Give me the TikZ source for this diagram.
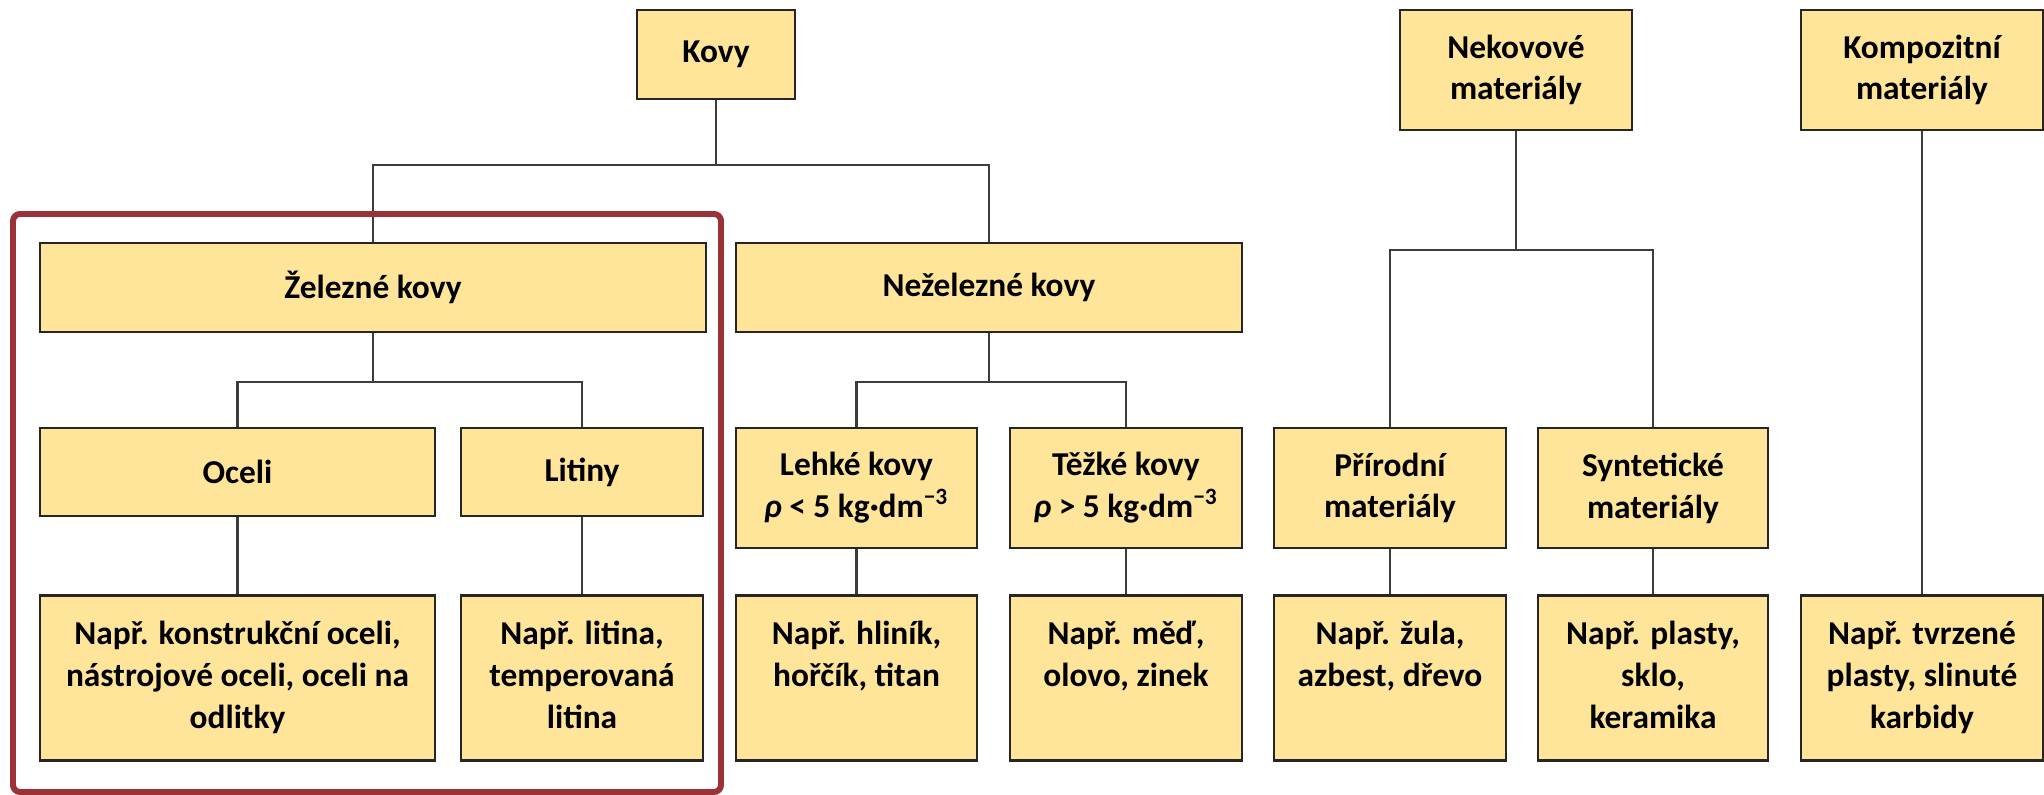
\documentclass[tikz,border=0pt]{standalone}
\usepackage{fontspec}
\setmainfont{Carlito}
\usepackage{tikz}
\usetikzlibrary{positioning,calc}

\definecolor{boxfill}{RGB}{255,229,153}
\definecolor{framered}{RGB}{155,50,55}
\definecolor{linegray}{RGB}{60,60,60}

\begin{document}
\begin{tikzpicture}[
    box/.style={draw=black!85, line width=0.8pt, rectangle, fill=boxfill, align=center,
      inner sep=0pt, font=\bfseries\fontsize{9.5}{11.9}\selectfont},
    % example boxes: text starts at the same height, two or three lines
    exboxii/.style={box, minimum height=1.65cm, text height=0.909cm, text depth=0.741cm},
    exboxiii/.style={box, minimum height=1.65cm, text height=1.327cm, text depth=0.323cm},
    conn/.style={draw=linegray, line width=0.6pt},
    hilite/.style={draw=framered, line width=1.7pt, rounded corners=2pt}]
    \useasboundingbox (0,0) rectangle (20.44,-7.95);

    % Nodes
    \node [box, minimum width=1.58cm, minimum height=0.89cm] (kovy) at (7.16,-0.545) {Kovy};
    \node [box, minimum width=2.32cm, minimum height=1.20cm] (nekovove) at (15.16,-0.70) {Nekovové\\materiály};
    \node [box, minimum width=2.42cm, minimum height=1.20cm] (kompozitni) at (19.22,-0.70) {Kompozitní\\materiály};

    \node [box, minimum width=6.66cm, minimum height=0.89cm] (zelezne) at (3.73,-2.875) {Železné kovy};
    \node [box, minimum width=5.06cm, minimum height=0.89cm] (nezelezne) at (9.89,-2.875) {Neželezné kovy};

    \node [box, minimum width=3.95cm, minimum height=0.88cm] (oceli) at (2.375,-4.72) {Oceli};
    \node [box, minimum width=2.42cm, minimum height=0.88cm] (litiny) at (5.82,-4.72) {Litiny};
    \node [box, minimum width=2.41cm, minimum height=1.20cm] (lehke) at (8.565,-4.88) {Lehké kovy\\{\itshape ρ} < 5 kg·dm\textsuperscript{−3}};
    \node [box, minimum width=2.32cm, minimum height=1.20cm] (tezke) at (11.26,-4.88) {Těžké kovy\\{\itshape ρ} > 5 kg·dm\textsuperscript{−3}};
    \node [box, minimum width=2.32cm, minimum height=1.20cm] (prirodni) at (13.90,-4.88) {Přírodní\\materiály};
    \node [box, minimum width=2.30cm, minimum height=1.20cm] (synteticke) at (16.53,-4.88) {Syntetické\\materiály};

    \node [exboxiii, minimum width=3.95cm, below=0.77cm of oceli] (oceliEx) {Např. konstrukční oceli,\\nástrojové oceli, oceli na\\odlitky};
    \node [exboxiii, minimum width=2.42cm, below=0.77cm of litiny] (litinyEx) {Např. litina,\\temperovaná\\litina};
    \node [exboxii, minimum width=2.41cm, below=0.45cm of lehke] (lehkeEx) {Např. hliník,\\hořčík, titan};
    \node [exboxii, minimum width=2.32cm, below=0.45cm of tezke] (tezkeEx) {Např. měď,\\olovo, zinek};
    \node [exboxii, minimum width=2.32cm, below=0.45cm of prirodni] (prirodniEx) {Např. žula,\\azbest, dřevo};
    \node [exboxiii, minimum width=2.30cm, below=0.45cm of synteticke] (syntetickeEx) {Např. plasty,\\sklo,\\keramika};
    \node [exboxiii, minimum width=2.42cm, below=4.63cm of kompozitni] (kompozitniEx) {Např. tvrzené\\plasty, slinuté\\karbidy};

    % Lines
    \draw [conn] (kovy.south) -- ++(0,-0.65) -| (zelezne.north);
    \draw [conn] (kovy.south) -- ++(0,-0.65) -| (nezelezne.north);
    \draw [conn] (zelezne.south) -- ++(0,-0.49) -| (oceli.north);
    \draw [conn] (zelezne.south) -- ++(0,-0.49) -| (litiny.north);
    \draw [conn] (nezelezne.south) -- ++(0,-0.49) -| (lehke.north);
    \draw [conn] (nezelezne.south) -- ++(0,-0.49) -| (tezke.north);
    \draw [conn] (nekovove.south) -- ++(0,-1.19) -| (prirodni.north);
    \draw [conn] (nekovove.south) -- ++(0,-1.19) -| (synteticke.north);
    \draw [conn] (oceli) -- (oceliEx);
    \draw [conn] (litiny) -- (litinyEx);
    \draw [conn] (lehke) -- (lehkeEx);
    \draw [conn] (tezke) -- (tezkeEx);
    \draw [conn] (prirodni) -- (prirodniEx);
    \draw [conn] (synteticke) -- (syntetickeEx);
    \draw [conn] (kompozitni) -- (kompozitniEx);

    % Highlight
    \draw [hilite] (0.13,-2.14) rectangle (7.21,-7.92);
  \end{tikzpicture}
\end{document}
